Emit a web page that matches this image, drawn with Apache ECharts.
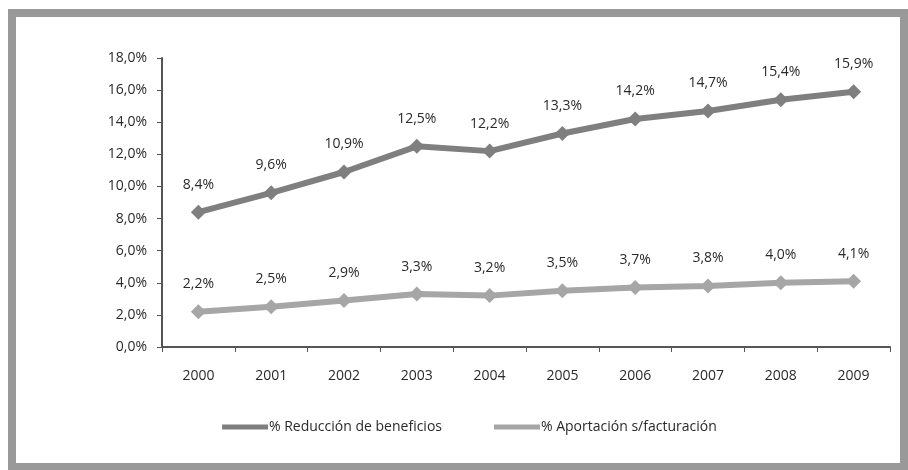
<!DOCTYPE html>
<html><head><meta charset="utf-8">
<script src="https://cdn.jsdelivr.net/npm/echarts@6/dist/echarts.min.js"></script>
<style>html,body{margin:0;padding:0;background:#fff}#c{width:908px;height:470px}</style>
</head><body><div id="c"></div>
<script>
const categories = ['2000','2001','2002','2003','2004','2005','2006','2007','2008','2009'];
const reduccion = [8.4, 9.6, 10.9, 12.5, 12.2, 13.3, 14.2, 14.7, 15.4, 15.9];
const aportacion = [2.2, 2.5, 2.9, 3.3, 3.2, 3.5, 3.7, 3.8, 4.0, 4.1];
const seriesNames = ['% Reducción de beneficios', '% Aportación s/facturación'];

const fmt = v => v.toFixed(1).replace('.', ',') + '%';
const font = '"Open Sans", "Liberation Sans", sans-serif';
const chart = echarts.init(document.getElementById('c'));
const mk = (name, data, color) => ({
  name, type: 'line', data, color,
  symbol: 'diamond', symbolSize: 15,
  lineStyle: { width: 6, color },
  itemStyle: { color },
  label: { show: true, position: 'top', distance: 13, formatter: p => fmt(p.value),
    fontFamily: font, fontSize: 14, color: '#2a2a2a' }
});
chart.setOption({
  animation: false,
  textStyle: { fontFamily: font },
  graphic: [{ type: 'rect', shape: { x: 12, y: 13, width: 892, height: 454 },
    style: { fill: 'none', stroke: '#999999', lineWidth: 8 } }],
  grid: { left: 162, right: 18, top: 58, bottom: 123 },
  legend: {
    bottom: 31, left: 217, itemGap: 52, itemWidth: 46, itemHeight: 5,
    icon: 'rect',
    textStyle: { fontFamily: font, fontSize: 14, color: '#2a2a2a', padding: [0,0,0,-4] },
    data: seriesNames
  },
  xAxis: {
    type: 'category', data: categories, boundaryGap: true,
    axisLine: { lineStyle: { color: '#555', width: 2 } },
    axisTick: { show: true, inside: false, length: 5, lineStyle: { color: '#555' } },
    axisLabel: { fontFamily: font, fontSize: 14, color: '#2a2a2a', margin: 22 }
  },
  yAxis: {
    type: 'value', min: 0, max: 18, interval: 2,
    splitLine: { show: false },
    axisLine: { show: true, lineStyle: { color: '#555', width: 2 } },
    axisTick: { show: true, length: 5, lineStyle: { color: '#555' } },
    axisLabel: { fontFamily: font, fontSize: 14, color: '#2a2a2a', margin: 15, formatter: v => fmt(v) }
  },
  series: [mk(seriesNames[0], reduccion, '#7f7f7f'), mk(seriesNames[1], aportacion, '#a6a6a6')]
});
</script></body></html>
